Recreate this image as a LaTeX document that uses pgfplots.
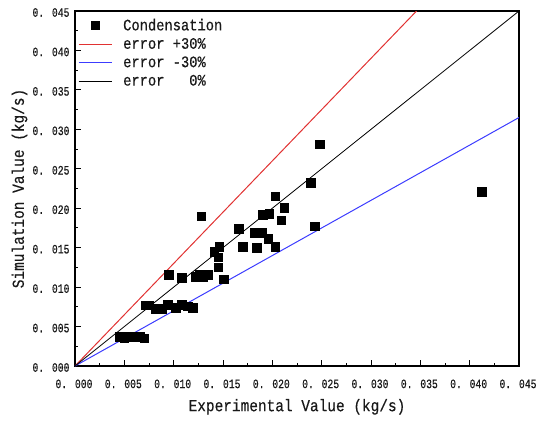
\documentclass[border=0pt]{standalone}
\usepackage{fontspec}
\setmainfont{Liberation Mono}[FakeStretch=0.86, FakeBold=0.4]
\newfontfamily\tickfont{Liberation Mono}[FakeStretch=0.76, FakeBold=0.5]
\usepackage{pgfplots}
\pgfplotsset{compat=1.18}
\definecolor{errred}{RGB}{225,50,50}
\definecolor{errblue}{RGB}{60,60,255}
\begin{document}
\begin{tikzpicture}[x=1pt,y=1pt]
\path[use as bounding box] (-75,-55) rectangle (462,366);
\begin{axis}[
  at={(0,0)}, anchor=south west,
  scale only axis, width=444pt, height=355pt,
  xmin=0, xmax=0.045, ymin=0, ymax=0.045,
  scaled ticks=false,
  xtick={0,0.005,0.010,0.015,0.020,0.025,0.030,0.035,0.040,0.045},
  ytick={0,0.005,0.010,0.015,0.020,0.025,0.030,0.035,0.040,0.045},
  xticklabels={0. 000,0. 005,0. 010,0. 015,0. 020,0. 025,0. 030,0. 035,0. 040,0. 045},
  yticklabels={0. 000,0. 005,0. 010,0. 015,0. 020,0. 025,0. 030,0. 035,0. 040,0. 045},
  minor x tick num=1, minor y tick num=1,
  tick align=inside, xtick pos=bottom, ytick pos=left,
  major tick length=6pt, minor tick length=3.5pt,
  axis line style={line width=1.3pt},
  every tick/.style={line width=1pt, black},
  ticklabel style={font=\tickfont\fontsize{12.8}{12.8}\selectfont, text=black!90},
  xticklabel style={yshift=-10pt, xshift=-1pt},
  yticklabel style={xshift=-2pt, yshift=-1.5pt},
  xlabel={Experimental Value (kg/s)},
  ylabel={Simulation Value (kg/s)},
  label style={font=\fontsize{16.8}{16.8}\selectfont, text=black!90},
  xlabel style={at={(axis description cs:0.5,-0.115)}, anchor=center},
  ylabel style={at={(axis description cs:-0.125,0.5)}, anchor=center},
  legend style={draw=none, fill=none, at={(0.0,0.99)}, anchor=north west,
    font=\fontsize{16}{16}\selectfont, row sep=2.2pt,
    nodes={text=black!90}},
  legend cell align=left,
  legend image code/.code={\draw[mark repeat=2,mark phase=2,#1] plot coordinates {(0pt,0pt) (16.5pt,0pt) (33pt,0pt)}; \path (42pt,0pt);},
]
\addplot[only marks, mark=square*, mark size=4.3pt, black] coordinates {
 (0.0045,0.0037) (0.0050,0.0036) (0.0054,0.0038) (0.0058,0.0037) (0.0062,0.0038) (0.0066,0.0037) (0.0070,0.0035)
 (0.0071,0.0077) (0.0075,0.0077) (0.0082,0.0073) (0.0088,0.0073) (0.0094,0.0078) (0.0102,0.0074) (0.0108,0.0078) (0.0114,0.0076) (0.0119,0.0074)
 (0.0095,0.0116) (0.0108,0.0112) (0.0122,0.0113) (0.0126,0.0116) (0.0130,0.0113) (0.0135,0.0116) (0.0128,0.0190)
 (0.0141,0.0145) (0.0146,0.0151) (0.0145,0.0138) (0.0145,0.0125) (0.0151,0.0110)
 (0.0166,0.0174) (0.0170,0.0151) (0.0182,0.0169) (0.0189,0.0169) (0.0184,0.0150) (0.0190,0.0192) (0.0197,0.0193)
 (0.0196,0.0161) (0.0203,0.0151) (0.0203,0.0215) (0.0209,0.0185) (0.0212,0.0201) (0.0239,0.0232) (0.0243,0.0177)
 (0.0248,0.0281) (0.0412,0.0221)
};
\addlegendentry{Condensation}
\addplot[errred, line width=1pt, no marks] coordinates {(0,0) (0.034615,0.045)};
\addlegendentry{error +30\%}
\addplot[errblue, line width=1pt, no marks] coordinates {(0,0) (0.045,0.0315)};
\addlegendentry{error -30\%}
\addplot[black, line width=0.8pt, no marks] coordinates {(0,0) (0.045,0.045)};
\addlegendentry{error\ \ \ 0\%}
\end{axis}
\end{tikzpicture}
\end{document}
